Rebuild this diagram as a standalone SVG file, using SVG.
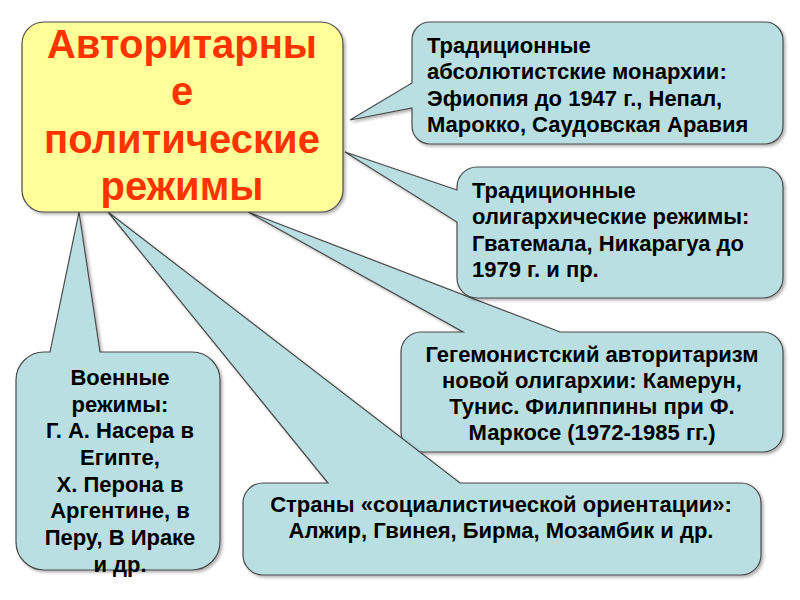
<svg xmlns="http://www.w3.org/2000/svg" width="800" height="600" viewBox="0 0 800 600">
<defs>
<filter id="sh" x="-10%" y="-10%" width="120%" height="130%">
<feDropShadow dx="2" dy="2" stdDeviation="1.5" flood-color="#000" flood-opacity="0.3"/>
</filter>
<style>
.co{fill:#b9dfe3;stroke:#4a4a4a;stroke-width:1.2;filter:url(#sh)}
.main{fill:#ffff99;stroke:#4a4a4a;stroke-width:1.2;filter:url(#sh)}
.t{font-family:"Liberation Sans",Arial,sans-serif;font-weight:bold;font-size:22px;fill:#000}
.c{text-anchor:middle}
.title{font-family:"Liberation Sans",Arial,sans-serif;font-weight:bold;font-size:40px;fill:#ff3300;text-anchor:middle}
</style>
</defs>
<rect width="800" height="600" fill="#fff"/>
<g id="connectors">
</g>
<g id="n3">
<path class="co" d="M421,332 H463 L248,212 L560,332 H763 A20,20 0 0 1 783,352 V432 A20,20 0 0 1 763,452 H421 A20,20 0 0 1 401,432 V352 A20,20 0 0 1 421,332 Z"/>
<text class="t c" x="592" y="362">Гегемонистский авторитаризм</text>
<text class="t c" x="592" y="388">новой олигархии: Камерун,</text>
<text class="t c" x="592" y="414">Тунис. Филиппины при Ф.</text>
<text class="t c" x="592" y="440">Маркосе (1972-1985 гг.)</text>
</g>
<g id="n4">
<path class="co" d="M263,483 H328 L108,212 L460,483 H741 A20,20 0 0 1 761,503 V555 A20,20 0 0 1 741,575 H263 A20,20 0 0 1 243,555 V503 A20,20 0 0 1 263,483 Z"/>
<text class="t c" x="501" y="512">Страны «социалистической ориентации»:</text>
<text class="t c" x="501" y="538">Алжир, Гвинея, Бирма, Мозамбик и др.</text>
</g>
<g id="n2">
<path class="co" d="M477,167 H763 A20,20 0 0 1 783,187 V278 A20,20 0 0 1 763,298 H477 A20,20 0 0 1 457,278 V222 L345,152 L457,190 V187 A20,20 0 0 1 477,167 Z"/>
<text class="t" x="472" y="198">Традиционные</text>
<text class="t" x="472" y="224">олигархические режимы:</text>
<text class="t" x="472" y="251">Гватемала, Никарагуа до</text>
<text class="t" x="472" y="277">1979 г. и пр.</text>
</g>
<g id="n1">
<path class="co" d="M430,22 H765 A18,18 0 0 1 783,40 V126 A18,18 0 0 1 765,144 H430 A18,18 0 0 1 412,126 V108 L350,120 L412,83 V40 A18,18 0 0 1 430,22 Z"/>
<text class="t" x="427" y="53">Традиционные</text>
<text class="t" x="427" y="79">абсолютистские монархии:</text>
<text class="t" x="427" y="106">Эфиопия до 1947 г., Непал,</text>
<text class="t" x="427" y="132">Марокко, Саудовская Аравия</text>
</g>
<g id="n5">
<path class="co" d="M44,352 H50 L79,212 L100,352 H192 A28,28 0 0 1 220,380 V542 A28,28 0 0 1 192,570 H44 A28,28 0 0 1 16,542 V380 A28,28 0 0 1 44,352 Z"/>
<text class="t c" x="120" y="385">Военные</text>
<text class="t c" x="120" y="412">режимы:</text>
<text class="t c" x="120" y="438">Г. А. Насера в</text>
<text class="t c" x="120" y="465">Египте,</text>
<text class="t c" x="120" y="492">Х. Перона в</text>
<text class="t c" x="120" y="518">Аргентине, в</text>
<text class="t c" x="120" y="545">Перу, В Ираке</text>
<text class="t c" x="120" y="572">и др.</text>
</g>
<g id="main">
<rect class="main" x="22" y="22" width="321" height="190" rx="22"/>
<text class="title" x="182" y="58">Авторитарны</text>
<text class="title" x="182" y="105">е</text>
<text class="title" x="182" y="153">политические</text>
<text class="title" x="182" y="200">режимы</text>
</g>
</svg>
